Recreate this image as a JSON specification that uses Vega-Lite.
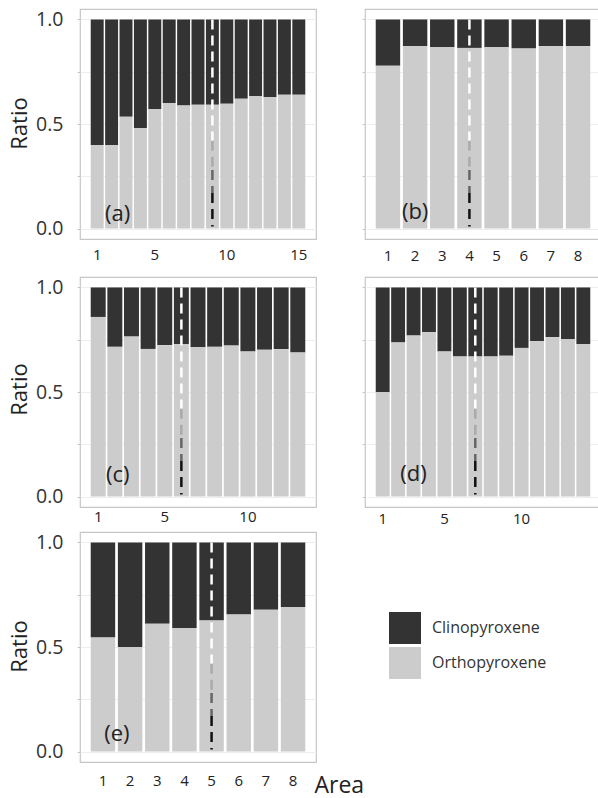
{
  "$schema": "https://vega.github.io/schema/vega-lite/v6.json",
  "padding": {"left": 7, "top": 8, "right": 0, "bottom": 0},
  "background": "white",
  "datasets": {
    "a": [
      {"area": 1, "Orthopyroxene": 0.40, "Clinopyroxene": 0.60},
      {"area": 2, "Orthopyroxene": 0.40, "Clinopyroxene": 0.60},
      {"area": 3, "Orthopyroxene": 0.535, "Clinopyroxene": 0.465},
      {"area": 4, "Orthopyroxene": 0.48, "Clinopyroxene": 0.52},
      {"area": 5, "Orthopyroxene": 0.57, "Clinopyroxene": 0.43},
      {"area": 6, "Orthopyroxene": 0.60, "Clinopyroxene": 0.40},
      {"area": 7, "Orthopyroxene": 0.588, "Clinopyroxene": 0.412},
      {"area": 8, "Orthopyroxene": 0.592, "Clinopyroxene": 0.408},
      {"area": 9, "Orthopyroxene": 0.592, "Clinopyroxene": 0.408},
      {"area": 10, "Orthopyroxene": 0.597, "Clinopyroxene": 0.403},
      {"area": 11, "Orthopyroxene": 0.621, "Clinopyroxene": 0.379},
      {"area": 12, "Orthopyroxene": 0.634, "Clinopyroxene": 0.366},
      {"area": 13, "Orthopyroxene": 0.629, "Clinopyroxene": 0.371},
      {"area": 14, "Orthopyroxene": 0.64, "Clinopyroxene": 0.36},
      {"area": 15, "Orthopyroxene": 0.64, "Clinopyroxene": 0.36}
    ],
    "b": [
      {"area": 1, "Orthopyroxene": 0.779, "Clinopyroxene": 0.221},
      {"area": 2, "Orthopyroxene": 0.872, "Clinopyroxene": 0.128},
      {"area": 3, "Orthopyroxene": 0.867, "Clinopyroxene": 0.133},
      {"area": 4, "Orthopyroxene": 0.864, "Clinopyroxene": 0.136},
      {"area": 5, "Orthopyroxene": 0.867, "Clinopyroxene": 0.133},
      {"area": 6, "Orthopyroxene": 0.861, "Clinopyroxene": 0.139},
      {"area": 7, "Orthopyroxene": 0.872, "Clinopyroxene": 0.128},
      {"area": 8, "Orthopyroxene": 0.872, "Clinopyroxene": 0.128}
    ],
    "c": [
      {"area": 1, "Orthopyroxene": 0.859, "Clinopyroxene": 0.141},
      {"area": 2, "Orthopyroxene": 0.716, "Clinopyroxene": 0.284},
      {"area": 3, "Orthopyroxene": 0.765, "Clinopyroxene": 0.235},
      {"area": 4, "Orthopyroxene": 0.706, "Clinopyroxene": 0.294},
      {"area": 5, "Orthopyroxene": 0.724, "Clinopyroxene": 0.276},
      {"area": 6, "Orthopyroxene": 0.729, "Clinopyroxene": 0.271},
      {"area": 7, "Orthopyroxene": 0.714, "Clinopyroxene": 0.286},
      {"area": 8, "Orthopyroxene": 0.716, "Clinopyroxene": 0.284},
      {"area": 9, "Orthopyroxene": 0.722, "Clinopyroxene": 0.278},
      {"area": 10, "Orthopyroxene": 0.694, "Clinopyroxene": 0.306},
      {"area": 11, "Orthopyroxene": 0.702, "Clinopyroxene": 0.298},
      {"area": 12, "Orthopyroxene": 0.705, "Clinopyroxene": 0.295},
      {"area": 13, "Orthopyroxene": 0.689, "Clinopyroxene": 0.311}
    ],
    "d": [
      {"area": 1, "Orthopyroxene": 0.50, "Clinopyroxene": 0.50},
      {"area": 2, "Orthopyroxene": 0.737, "Clinopyroxene": 0.263},
      {"area": 3, "Orthopyroxene": 0.770, "Clinopyroxene": 0.230},
      {"area": 4, "Orthopyroxene": 0.786, "Clinopyroxene": 0.214},
      {"area": 5, "Orthopyroxene": 0.694, "Clinopyroxene": 0.306},
      {"area": 6, "Orthopyroxene": 0.670, "Clinopyroxene": 0.330},
      {"area": 7, "Orthopyroxene": 0.670, "Clinopyroxene": 0.330},
      {"area": 8, "Orthopyroxene": 0.670, "Clinopyroxene": 0.330},
      {"area": 9, "Orthopyroxene": 0.673, "Clinopyroxene": 0.327},
      {"area": 10, "Orthopyroxene": 0.711, "Clinopyroxene": 0.289},
      {"area": 11, "Orthopyroxene": 0.743, "Clinopyroxene": 0.257},
      {"area": 12, "Orthopyroxene": 0.762, "Clinopyroxene": 0.238},
      {"area": 13, "Orthopyroxene": 0.752, "Clinopyroxene": 0.248},
      {"area": 14, "Orthopyroxene": 0.729, "Clinopyroxene": 0.271}
    ],
    "e": [
      {"area": 1, "Orthopyroxene": 0.545, "Clinopyroxene": 0.455},
      {"area": 2, "Orthopyroxene": 0.50, "Clinopyroxene": 0.50},
      {"area": 3, "Orthopyroxene": 0.611, "Clinopyroxene": 0.389},
      {"area": 4, "Orthopyroxene": 0.591, "Clinopyroxene": 0.409},
      {"area": 5, "Orthopyroxene": 0.627, "Clinopyroxene": 0.373},
      {"area": 6, "Orthopyroxene": 0.656, "Clinopyroxene": 0.344},
      {"area": 7, "Orthopyroxene": 0.678, "Clinopyroxene": 0.322},
      {"area": 8, "Orthopyroxene": 0.691, "Clinopyroxene": 0.309}
    ]
  },
  "config": {
    "font": "Open Sans",
    "view": {"stroke": "#c6c6c6", "strokeWidth": 1.2},
    "axis": {"domain": false, "gridColor": "#eeeeee", "labelFont": "Open Sans", "titleFont": "Open Sans", "labelColor": "#333333", "titleColor": "#222222", "titleFontWeight": "normal"},
    "axisX": {"ticks": false, "tickSize": 0, "labelFontSize": 15, "labelAngle": 0, "labelColor": "#222222", "bandPosition": 0.5, "title": null},
    "axisY": {"tickSize": 3, "tickColor": "#c6c6c6", "labelFontSize": 19.5, "labelPadding": 14, "titleFontSize": 22, "titlePadding": 4},
    "legend": {"orient": "none", "legendX": 309, "legendY": 603, "symbolType": "square", "symbolSize": 1024, "symbolStrokeWidth": 0, "symbolOpacity": 1, "labelFontSize": 16, "labelFont": "Open Sans", "labelColor": "#333333", "labelOffset": 11, "rowPadding": 3, "padding": 0}
  },
  "spacing": 12,
  "vconcat": [
    {
      "spacing": 43,
      "hconcat": [
        {
          "width": 236, "height": 230,
          "layer": [
            {
              "data": {"name": "a"},
              "transform": [{"fold": ["Clinopyroxene", "Orthopyroxene"], "as": ["mineral", "ratio"]}],
              "mark": {"type": "bar"},
              "encoding": {
                "x": {"field": "area", "type": "ordinal", "scale": {"domain": [1,2,3,4,5,6,7,8,9,10,11,12,13,14,15], "paddingInner": 0.1, "paddingOuter": 0.745}, "axis": {"values": [1,5,10,15], "labelPadding": 8}},
                "y": {"field": "ratio", "type": "quantitative", "stack": "zero", "scale": {"domain": [-0.05, 1.05], "nice": false, "zero": false}, "axis": {"values": [0,0.25,0.5,0.75,1], "labelExpr": "datum.value == 0 || datum.value == 0.5 || datum.value == 1 ? format(datum.value, '.1f') : ''", "title": "Ratio", "titleY": 114}},
                "color": {"field": "mineral", "type": "nominal", "scale": {"domain": ["Clinopyroxene", "Orthopyroxene"], "range": ["#333333", "#cccccc"]}, "legend": {"title": null}},
                "order": {"field": "mineral", "sort": "descending"}
              }
            },
            {"data": {"values": [{}]}, "mark": {"type": "rule", "color": "#ffffff", "strokeWidth": 2.5, "strokeDash": [10, 6]}, "encoding": {"x": {"datum": 9, "type": "ordinal"}, "y": {"datum": 1, "type": "quantitative"}, "y2": {"datum": 0.42}}},
            {"data": {"values": [{}]}, "mark": {"type": "rule", "color": "#aaaaaa", "strokeWidth": 2.5, "strokeDash": [10, 6]}, "encoding": {"x": {"datum": 9, "type": "ordinal"}, "y": {"datum": 0.42, "type": "quantitative"}, "y2": {"datum": 0.28}}},
            {"data": {"values": [{}]}, "mark": {"type": "rule", "color": "#666666", "strokeWidth": 2.5, "strokeDash": [10, 6]}, "encoding": {"x": {"datum": 9, "type": "ordinal"}, "y": {"datum": 0.28, "type": "quantitative"}, "y2": {"datum": 0.17}}},
            {"data": {"values": [{}]}, "mark": {"type": "rule", "color": "#111111", "strokeWidth": 2.5, "strokeDash": [10, 6]}, "encoding": {"x": {"datum": 9, "type": "ordinal"}, "y": {"datum": 0.17, "type": "quantitative"}, "y2": {"datum": 0.01}}},
            {"data": {"values": [{}]}, "mark": {"type": "text", "text": "(a)", "fontSize": 22, "font": "Open Sans", "color": "#222222", "dx": 6, "baseline": "middle"}, "encoding": {"x": {"datum": 2, "type": "ordinal"}, "y": {"datum": 0.068, "type": "quantitative"}}}
          ]
        },
        {
          "width": 236, "height": 230,
          "layer": [
            {
              "data": {"name": "b"},
              "transform": [{"fold": ["Clinopyroxene", "Orthopyroxene"], "as": ["mineral", "ratio"]}],
              "mark": {"type": "bar"},
              "encoding": {
                "x": {"field": "area", "type": "ordinal", "scale": {"domain": [1,2,3,4,5,6,7,8], "paddingInner": 0.1, "paddingOuter": 0.395}, "axis": {"values": [1,2,3,4,5,6,7,8], "labelPadding": 9}},
                "y": {"field": "ratio", "type": "quantitative", "stack": "zero", "scale": {"domain": [-0.05, 1.05], "nice": false, "zero": false}, "axis": {"values": [0,0.25,0.5,0.75,1], "labels": false, "title": null}},
                "color": {"field": "mineral", "type": "nominal", "scale": {"domain": ["Clinopyroxene", "Orthopyroxene"], "range": ["#333333", "#cccccc"]}, "legend": {"title": null}},
                "order": {"field": "mineral", "sort": "descending"}
              }
            },
            {"data": {"values": [{}]}, "mark": {"type": "rule", "color": "#ffffff", "strokeWidth": 2.5, "strokeDash": [10, 6]}, "encoding": {"x": {"datum": 4, "type": "ordinal"}, "y": {"datum": 1, "type": "quantitative"}, "y2": {"datum": 0.42}}},
            {"data": {"values": [{}]}, "mark": {"type": "rule", "color": "#aaaaaa", "strokeWidth": 2.5, "strokeDash": [10, 6]}, "encoding": {"x": {"datum": 4, "type": "ordinal"}, "y": {"datum": 0.42, "type": "quantitative"}, "y2": {"datum": 0.28}}},
            {"data": {"values": [{}]}, "mark": {"type": "rule", "color": "#666666", "strokeWidth": 2.5, "strokeDash": [10, 6]}, "encoding": {"x": {"datum": 4, "type": "ordinal"}, "y": {"datum": 0.28, "type": "quantitative"}, "y2": {"datum": 0.17}}},
            {"data": {"values": [{}]}, "mark": {"type": "rule", "color": "#111111", "strokeWidth": 2.5, "strokeDash": [10, 6]}, "encoding": {"x": {"datum": 4, "type": "ordinal"}, "y": {"datum": 0.17, "type": "quantitative"}, "y2": {"datum": 0.01}}},
            {"data": {"values": [{}]}, "mark": {"type": "text", "text": "(b)", "fontSize": 22, "font": "Open Sans", "color": "#222222", "dx": 0, "baseline": "middle"}, "encoding": {"x": {"datum": 2, "type": "ordinal"}, "y": {"datum": 0.078, "type": "quantitative"}}}
          ]
        }
      ]
    },
    {
      "spacing": 4,
      "vconcat": [
        {
          "spacing": 43,
          "hconcat": [
            {
              "width": 236, "height": 230,
              "layer": [
                {
                  "data": {"name": "c"},
                  "transform": [{"fold": ["Clinopyroxene", "Orthopyroxene"], "as": ["mineral", "ratio"]}],
                  "mark": {"type": "bar"},
                  "encoding": {
                    "x": {"field": "area", "type": "ordinal", "scale": {"domain": [1,2,3,4,5,6,7,8,9,10,11,12,13], "paddingInner": 0.1, "paddingOuter": 0.645}, "axis": {"values": [1,5,10], "labelPadding": 2}},
                    "y": {"field": "ratio", "type": "quantitative", "stack": "zero", "scale": {"domain": [-0.05, 1.05], "nice": false, "zero": false}, "axis": {"values": [0,0.25,0.5,0.75,1], "labelExpr": "datum.value == 0 || datum.value == 0.5 || datum.value == 1 ? format(datum.value, '.1f') : ''", "title": "Ratio", "titleY": 112}},
                    "color": {"field": "mineral", "type": "nominal", "scale": {"domain": ["Clinopyroxene", "Orthopyroxene"], "range": ["#333333", "#cccccc"]}, "legend": {"title": null}},
                    "order": {"field": "mineral", "sort": "descending"}
                  }
                },
                {"data": {"values": [{}]}, "mark": {"type": "rule", "color": "#ffffff", "strokeWidth": 2.5, "strokeDash": [10, 6]}, "encoding": {"x": {"datum": 6, "type": "ordinal"}, "y": {"datum": 1, "type": "quantitative"}, "y2": {"datum": 0.42}}},
                {"data": {"values": [{}]}, "mark": {"type": "rule", "color": "#aaaaaa", "strokeWidth": 2.5, "strokeDash": [10, 6]}, "encoding": {"x": {"datum": 6, "type": "ordinal"}, "y": {"datum": 0.42, "type": "quantitative"}, "y2": {"datum": 0.28}}},
                {"data": {"values": [{}]}, "mark": {"type": "rule", "color": "#666666", "strokeWidth": 2.5, "strokeDash": [10, 6]}, "encoding": {"x": {"datum": 6, "type": "ordinal"}, "y": {"datum": 0.28, "type": "quantitative"}, "y2": {"datum": 0.17}}},
                {"data": {"values": [{}]}, "mark": {"type": "rule", "color": "#111111", "strokeWidth": 2.5, "strokeDash": [10, 6]}, "encoding": {"x": {"datum": 6, "type": "ordinal"}, "y": {"datum": 0.17, "type": "quantitative"}, "y2": {"datum": 0.01}}},
                {"data": {"values": [{}]}, "mark": {"type": "text", "text": "(c)", "fontSize": 22, "font": "Open Sans", "color": "#222222", "dx": 3, "baseline": "middle"}, "encoding": {"x": {"datum": 2, "type": "ordinal"}, "y": {"datum": 0.105, "type": "quantitative"}}}
              ]
            },
            {
              "width": 236, "height": 230,
              "layer": [
                {
                  "data": {"name": "d"},
                  "transform": [{"fold": ["Clinopyroxene", "Orthopyroxene"], "as": ["mineral", "ratio"]}],
                  "mark": {"type": "bar"},
                  "encoding": {
                    "x": {"field": "area", "type": "ordinal", "scale": {"domain": [1,2,3,4,5,6,7,8,9,10,11,12,13,14], "paddingInner": 0.1, "paddingOuter": 0.695}, "axis": {"values": [1,5,10], "labelPadding": 4}},
                    "y": {"field": "ratio", "type": "quantitative", "stack": "zero", "scale": {"domain": [-0.05, 1.05], "nice": false, "zero": false}, "axis": {"values": [0,0.25,0.5,0.75,1], "labels": false, "title": null}},
                    "color": {"field": "mineral", "type": "nominal", "scale": {"domain": ["Clinopyroxene", "Orthopyroxene"], "range": ["#333333", "#cccccc"]}, "legend": {"title": null}},
                    "order": {"field": "mineral", "sort": "descending"}
                  }
                },
                {"data": {"values": [{}]}, "mark": {"type": "rule", "color": "#ffffff", "strokeWidth": 2.5, "strokeDash": [10, 6]}, "encoding": {"x": {"datum": 7, "type": "ordinal"}, "y": {"datum": 1, "type": "quantitative"}, "y2": {"datum": 0.42}}},
                {"data": {"values": [{}]}, "mark": {"type": "rule", "color": "#aaaaaa", "strokeWidth": 2.5, "strokeDash": [10, 6]}, "encoding": {"x": {"datum": 7, "type": "ordinal"}, "y": {"datum": 0.42, "type": "quantitative"}, "y2": {"datum": 0.28}}},
                {"data": {"values": [{}]}, "mark": {"type": "rule", "color": "#666666", "strokeWidth": 2.5, "strokeDash": [10, 6]}, "encoding": {"x": {"datum": 7, "type": "ordinal"}, "y": {"datum": 0.28, "type": "quantitative"}, "y2": {"datum": 0.17}}},
                {"data": {"values": [{}]}, "mark": {"type": "rule", "color": "#111111", "strokeWidth": 2.5, "strokeDash": [10, 6]}, "encoding": {"x": {"datum": 7, "type": "ordinal"}, "y": {"datum": 0.17, "type": "quantitative"}, "y2": {"datum": 0.01}}},
                {"data": {"values": [{}]}, "mark": {"type": "text", "text": "(d)", "fontSize": 22, "font": "Open Sans", "color": "#222222", "dx": 0, "baseline": "middle"}, "encoding": {"x": {"datum": 3, "type": "ordinal"}, "y": {"datum": 0.11, "type": "quantitative"}}}
              ]
            }
          ]
        },
        {
          "width": 236, "height": 230,
          "layer": [
            {
              "data": {"name": "e"},
              "transform": [{"fold": ["Clinopyroxene", "Orthopyroxene"], "as": ["mineral", "ratio"]}],
              "mark": {"type": "bar"},
              "encoding": {
                "x": {"field": "area", "type": "ordinal", "scale": {"domain": [1,2,3,4,5,6,7,8], "paddingInner": 0.1, "paddingOuter": 0.395}, "axis": {"values": [1,2,3,4,5,6,7,8], "labelPadding": 11, "title": "Area", "titleFontSize": 23, "titleAlign": "left", "titleBaseline": "alphabetic", "titleX": 234, "titleY": 30}},
                "y": {"field": "ratio", "type": "quantitative", "stack": "zero", "scale": {"domain": [-0.05, 1.05], "nice": false, "zero": false}, "axis": {"values": [0,0.25,0.5,0.75,1], "labelExpr": "datum.value == 0 || datum.value == 0.5 || datum.value == 1 ? format(datum.value, '.1f') : ''", "title": "Ratio", "titleY": 114}},
                "color": {"field": "mineral", "type": "nominal", "scale": {"domain": ["Clinopyroxene", "Orthopyroxene"], "range": ["#333333", "#cccccc"]}, "legend": {"title": null}},
                "order": {"field": "mineral", "sort": "descending"}
              }
            },
            {"data": {"values": [{}]}, "mark": {"type": "rule", "color": "#ffffff", "strokeWidth": 2.5, "strokeDash": [10, 6]}, "encoding": {"x": {"datum": 5, "type": "ordinal"}, "y": {"datum": 1, "type": "quantitative"}, "y2": {"datum": 0.42}}},
            {"data": {"values": [{}]}, "mark": {"type": "rule", "color": "#aaaaaa", "strokeWidth": 2.5, "strokeDash": [10, 6]}, "encoding": {"x": {"datum": 5, "type": "ordinal"}, "y": {"datum": 0.42, "type": "quantitative"}, "y2": {"datum": 0.28}}},
            {"data": {"values": [{}]}, "mark": {"type": "rule", "color": "#666666", "strokeWidth": 2.5, "strokeDash": [10, 6]}, "encoding": {"x": {"datum": 5, "type": "ordinal"}, "y": {"datum": 0.28, "type": "quantitative"}, "y2": {"datum": 0.17}}},
            {"data": {"values": [{}]}, "mark": {"type": "rule", "color": "#111111", "strokeWidth": 2.5, "strokeDash": [10, 6]}, "encoding": {"x": {"datum": 5, "type": "ordinal"}, "y": {"datum": 0.17, "type": "quantitative"}, "y2": {"datum": 0.01}}},
            {"data": {"values": [{}]}, "mark": {"type": "text", "text": "(e)", "fontSize": 22, "font": "Open Sans", "color": "#222222", "dx": 14, "baseline": "middle"}, "encoding": {"x": {"datum": 1, "type": "ordinal"}, "y": {"datum": 0.086, "type": "quantitative"}}}
          ]
        }
      ]
    }
  ]
}
